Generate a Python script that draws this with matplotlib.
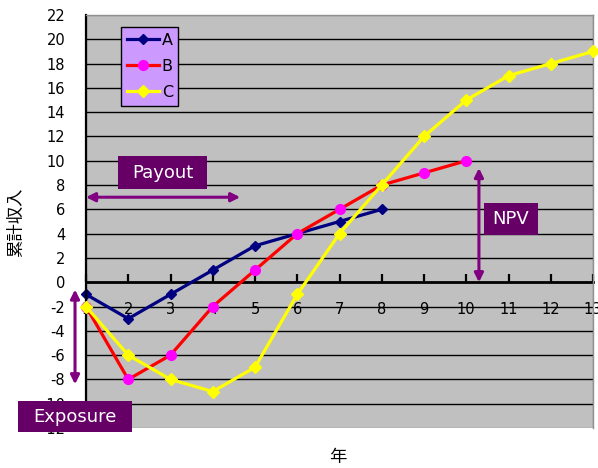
import matplotlib
matplotlib.use("Agg")
import matplotlib.pyplot as plt
from matplotlib.patches import Rectangle, FancyArrowPatch

plt.rcParams['font.family'] = ['DejaVu Sans', 'Noto Sans CJK JP']
plt.rcParams['axes.unicode_minus'] = False

# ---- data ----
years_a = [1, 2, 3, 4, 5, 6, 7, 8]
series_a = [-1, -3, -1, 1, 3, 4, 5, 6]
years_b = [1, 2, 3, 4, 5, 6, 7, 8, 9, 10]
series_b = [-2, -8, -6, -2, 1, 4, 6, 8, 9, 10]
years_c = [1, 2, 3, 4, 5, 6, 7, 8, 9, 10, 11, 12, 13]
series_c = [-2, -6, -8, -9, -7, -1, 4, 8, 12, 15, 17, 18, 19]
x_ticks = list(range(1, 14))
y_ticks = list(range(-12, 23, 2))
series_names = ['A', 'B', 'C']
x_label = '年'
y_label = '累計収入'

W, H = 598, 468
fig = plt.figure(figsize=(W / 100, H / 100), dpi=100)


def fx(px):
    return px / W


def fy(py):
    return 1 - py / H


L, R, T, B = 86, 593, 15, 428
ax = fig.add_axes([fx(L), fy(B), fx(R) - fx(L), fy(T) - fy(B)])
ax.set_facecolor('#C0C0C0')
ax.set_xlim(1, 13)
ax.set_ylim(-12, 22)

# grid lines
for yv in y_ticks:
    if -12 < yv < 22 and yv != 0:
        ax.axhline(yv, color='black', lw=1.0, zorder=1)

ax.plot(years_a, series_a, color='#000080', lw=2.3, marker='D', ms=5,
        mfc='#000080', mec='#000080', label=series_names[0], zorder=2, clip_on=False)
ax.plot(years_b, series_b, color='#FF0000', lw=2.3, marker='o', ms=7,
        mfc='#FF00FF', mec='#FF00FF', label=series_names[1], zorder=3, clip_on=False)
ax.plot(years_c, series_c, color='#FFFF00', lw=2.3, marker='D', ms=6,
        mfc='#FFFF00', mec='#FFFF00', label=series_names[2], zorder=4, clip_on=False)

# spines
ax.spines['top'].set_color('#909090')
ax.spines['right'].set_color('#909090')
ax.spines['top'].set_linewidth(1.0)
ax.spines['right'].set_linewidth(1.0)
ax.spines['left'].set_color('black')
ax.spines['left'].set_linewidth(1.6)
ax.spines['bottom'].set_position(('data', 0))
ax.spines['bottom'].set_linewidth(2.0)
ax.spines['bottom'].set_zorder(1.5)
ax.add_patch(Rectangle((0, 0), 1, 1, transform=ax.transAxes, fill=False,
                       edgecolor='#909090', lw=1.0, zorder=0.5))

ax.set_xticks(x_ticks)
ax.set_xticklabels([str(v) for v in x_ticks])
ax.tick_params(axis='x', direction='in', length=6, width=1.6, pad=14,
               labelsize=10.5, color='black')
ax.set_yticks(y_ticks)
ax.set_yticklabels([str(v) for v in y_ticks])
ax.tick_params(axis='y', length=0, pad=15, labelsize=10.5)
for lbl in ax.get_xticklabels():
    lbl.set_clip_on(False)

leg = ax.legend(loc='upper left', bbox_to_anchor=(fx(121), fy(27)),
                bbox_transform=fig.transFigure, fontsize=11.5, frameon=True,
                fancybox=False, framealpha=1, facecolor='#CC99FF',
                edgecolor='black', handlelength=2.0, handletextpad=0.2,
                labelspacing=0.7, borderpad=0.35, borderaxespad=0)
leg.get_frame().set_linewidth(1.0)
leg.set_zorder(10)

purple = '#800080'
box = '#660066'

# arrows (in data coordinates)
def darrow(p0, p1):
    a = FancyArrowPatch(p0, p1, arrowstyle='<|-|>', mutation_scale=13,
                        color=purple, lw=2.2, zorder=6, clip_on=False,
                        shrinkA=0, shrinkB=0)
    ax.add_patch(a)

darrow((1.0, 7.0), (4.65, 7.0))
darrow((10.3, 0.0), (10.3, 9.4))
darrow((0.74, -0.6), (0.74, -8.4))


def label_box(x0, y0, x1, y1, text):
    fig.add_artist(Rectangle((fx(x0), fy(y1)), fx(x1) - fx(x0), fy(y0) - fy(y1),
                             transform=fig.transFigure, facecolor=box,
                             edgecolor='none', zorder=20))
    fig.text(fx((x0 + x1) / 2), fy((y0 + y1) / 2), text, color='white',
             fontsize=13, ha='center', va='center', zorder=21)


label_box(118, 156, 207, 189, 'Payout')
label_box(484, 203, 538, 235, 'NPV')
label_box(18, 401, 132, 432, 'Exposure')

fig.text(fx(16), fy(222), y_label, rotation=90, ha='center', va='center',
         fontsize=12.5, family=['Noto Sans CJK JP', 'DejaVu Sans'])
fig.text(fx(338), fy(457), x_label, ha='center', va='center', fontsize=12.5,
         family=['Noto Sans CJK JP', 'DejaVu Sans'])

fig.savefig('out.png', dpi=100)
